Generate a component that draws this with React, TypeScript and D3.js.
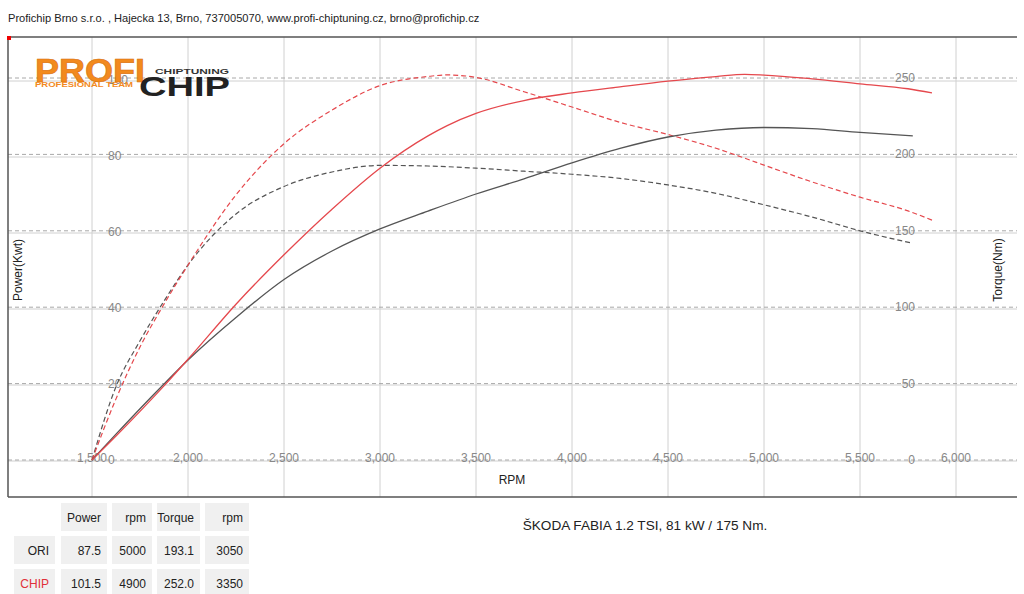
import React from "react";
import * as d3 from "d3";

const headerText =
  "Profichip Brno s.r.o. , Hajecka 13, Brno, 737005070, www.profi-chiptuning.cz, brno@profichip.cz";
const titleText = "ŠKODA FABIA 1.2 TSI, 81 kW / 175 Nm.";

const rpmTicks = [1500, 2000, 2500, 3000, 3500, 4000, 4500, 5000, 5500, 6000];
const powerTicks = [0, 20, 40, 60, 80, 100];
const torqueTicks = [0, 50, 100, 150, 200, 250];

const rpmOri = [1500, 1625, 1750, 1875, 2000, 2250, 2500, 2750, 3000, 3250, 3500, 3750, 4000, 4250, 4500, 4750, 5000, 5250, 5500, 5775];
const powerOri = [0, 6.8, 13.5, 20, 26.3, 37.5, 47.5, 55, 60.8, 65.5, 70, 74, 78.2, 82, 85, 86.8, 87.5, 87.2, 86.2, 85.3];
const torqueOri = [0, 48, 78, 104, 127.6, 161, 179, 188.5, 192.8, 192.4, 191, 189, 187, 184.3, 180, 174.5, 167, 159, 150, 141.8];

const rpmChip = [1500, 1625, 1750, 1875, 2000, 2250, 2500, 2750, 3000, 3250, 3350, 3500, 3750, 4000, 4250, 4500, 4750, 4900, 5000, 5250, 5500, 5750, 5875];
const powerChip = [0, 6.3, 12.8, 19.5, 26.5, 41, 54, 66, 76.8, 85.3, 88, 91.2, 94.6, 96.6, 98.2, 99.7, 100.9, 101.5, 101.3, 100.3, 99, 97.7, 96.6];
const torqueChip = [0, 40, 74, 102, 127.6, 173.5, 207, 229, 245, 251, 252, 250.4, 241, 231, 221, 213, 204, 197.5, 193, 182, 172, 163, 157];

const tableHeader = ["Power", "rpm", "Torque", "rpm"];
const tableRowLabels = ["ORI", "CHIP"];
const tableRows = [
  ["87.5", "5000", "193.1", "3050"],
  ["101.5", "4900", "252.0", "3350"],
];

const RED = "#e5484d";
const DARK = "#555555";

export default function App() {
  const x = d3.scaleLinear().domain([1500, 6000]).range([92, 956]);
  const yP = d3.scaleLinear().domain([0, 100]).range([460, 80]);
  const yT = d3.scaleLinear().domain([0, 250]).range([460, 78]);

  const mk = (rpms: number[], vals: number[], y: d3.ScaleLinear<number, number>) =>
    d3
      .line<number>()
      .x((_, i) => x(rpms[i]))
      .y((v) => y(v))
      .curve(d3.curveMonotoneX)(vals) || "";

  const left = 8, top = 37, right = 1017, bottom = 497;

  const colX = [61, 112, 157, 205];
  const colW = [46, 40, 43, 44];
  const rowY = [503, 536, 569];
  const rowH = 28;

  return (
    <svg
      width={1024}
      height={594}
      style={{ position: "absolute", left: 0, top: 0, display: "block", background: "#fff" }}
      fontFamily="'Liberation Sans', Arial, sans-serif"
    >
      <text x={8} y={22} fontSize={11.1} fill="#222">{headerText}</text>

      {/* vertical grid */}
      {rpmTicks.map((t) => (
        <line key={"v" + t} x1={x(t)} x2={x(t)} y1={top} y2={bottom} stroke="#d0d0d0" strokeWidth={1} />
      ))}
      {/* power grid solid */}
      {powerTicks.map((t) => (
        <line key={"p" + t} x1={left} x2={right} y1={yP(t) + 1} y2={yP(t) + 1} stroke="#d0d0d0" strokeWidth={1} />
      ))}
      {/* torque grid dashed */}
      {torqueTicks.map((t) => (
        <line key={"t" + t} x1={left} x2={right} y1={yT(t)} y2={yT(t)} stroke="#a8a8a8" strokeWidth={1} strokeDasharray="4,3" />
      ))}

      {/* frame */}
      <line x1={left} x2={right} y1={top} y2={top} stroke="#555" strokeWidth={1.5} />
      <line x1={left} x2={left} y1={top} y2={bottom} stroke="#555" strokeWidth={1.5} />
      <line x1={left} x2={right} y1={bottom} y2={bottom} stroke="#555" strokeWidth={1.5} />
      <rect x={left - 1} y={top - 1} width={4} height={4} fill="#e00" />

      {/* tick labels */}
      {rpmTicks.map((t) => (
        <text key={"xl" + t} x={x(t)} y={462} fontSize={12} fill="#888" textAnchor="middle">
          {d3.format(",")(t)}
        </text>
      ))}
      {powerTicks.map((t) => (
        <text key={"pl" + t} x={108} y={yP(t) + 4} fontSize={12} fill="#888">{t}</text>
      ))}
      {torqueTicks.map((t) => (
        <text key={"tl" + t} x={915} y={yT(t) + 4} fontSize={12} fill="#888" textAnchor="end">{t}</text>
      ))}

      {/* axis titles */}
      <text x={512} y={484} fontSize={12} fill="#222" textAnchor="middle">RPM</text>
      <text transform="translate(22,270) rotate(-90)" fontSize={12} fill="#222" textAnchor="middle">Power(Kwt)</text>
      <text transform="translate(1002,270) rotate(-90)" fontSize={12} fill="#222" textAnchor="middle">Torque(Nm)</text>

      {/* logo */}
      <g>
        <text x={35} y={82} fontSize={33} fontWeight="bold" fill="#f28a1e" textLength={110} lengthAdjust="spacingAndGlyphs" stroke="#d66f0a" strokeWidth={0.6}>PROFI</text>
        <text x={35} y={86.5} fontSize={7.5} fontWeight="bold" fill="#f28a1e" textLength={98} lengthAdjust="spacingAndGlyphs">PROFESIONAL TEAM</text>
        <text x={155} y={74} fontSize={8} fontWeight="bold" fill="#333" textLength={74} lengthAdjust="spacingAndGlyphs">CHIPTUNING</text>
        <text x={139} y={96} fontSize={28} fontWeight="bold" fill="#222" textLength={91} lengthAdjust="spacingAndGlyphs">CHIP</text>
      </g>

      {/* curves */}
      <path d={mk(rpmOri, torqueOri, yT)} fill="none" stroke={DARK} strokeWidth={1.2} strokeDasharray="5,3" />
      <path d={mk(rpmChip, torqueChip, yT)} fill="none" stroke={RED} strokeWidth={1.2} strokeDasharray="5,3" />
      <path d={mk(rpmOri, powerOri, yP)} fill="none" stroke={DARK} strokeWidth={1.3} />
      <path d={mk(rpmChip, powerChip, yP)} fill="none" stroke={RED} strokeWidth={1.3} />

      {/* table */}
      {tableHeader.map((h, i) => (
        <g key={"th" + i}>
          <rect x={colX[i]} y={rowY[0]} width={colW[i]} height={rowH} fill="#f0f0f0" />
          <text x={colX[i] + colW[i] - 6} y={rowY[0] + 19} fontSize={12} fill="#222" textAnchor="end">{h}</text>
        </g>
      ))}
      {tableRows.map((row, r) => (
        <g key={"tr" + r}>
          <rect x={14} y={rowY[r + 1]} width={41} height={rowH} fill="#f0f0f0" />
          <text x={49} y={rowY[r + 1] + 19} fontSize={12} fill={r === 1 ? "#e0303a" : "#222"} textAnchor="end">
            {tableRowLabels[r]}
          </text>
          {row.map((v, i) => (
            <g key={"c" + i}>
              <rect x={colX[i]} y={rowY[r + 1]} width={colW[i]} height={rowH} fill="#f0f0f0" />
              <text x={colX[i] + colW[i] - 6} y={rowY[r + 1] + 19} fontSize={12} fill="#222" textAnchor="end">{v}</text>
            </g>
          ))}
        </g>
      ))}

      <text x={645} y={530} fontSize={13.6} fill="#222" textAnchor="middle">{titleText}</text>
    </svg>
  );
}
